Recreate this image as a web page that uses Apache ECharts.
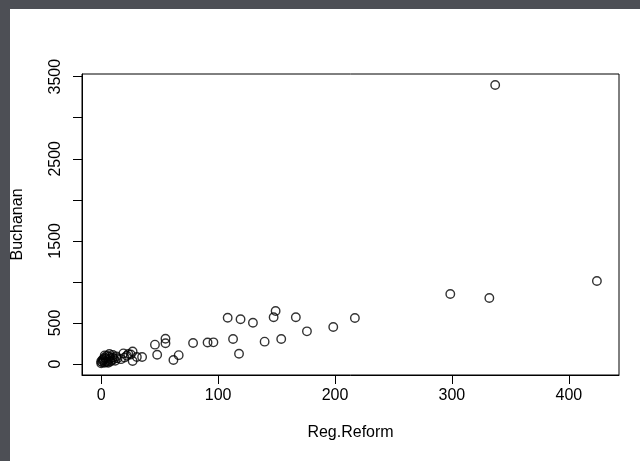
<!DOCTYPE html>
<html>
<head>
<meta charset="utf-8">
<script src="https://cdn.jsdelivr.net/npm/echarts@6/dist/echarts.min.js"></script>
<style>
  html, body { margin: 0; padding: 0; background: #4d4f55; }
  #paper { position: absolute; left: 10px; top: 9px; width: 630px; height: 452px; background: #ffffff; }
  #chart { position: absolute; left: 0; top: 0; width: 640px; height: 461px; }
</style>
</head>
<body>
<div id="paper"></div>
<div id="chart"></div>
<script>
// Reg.Reform (x) vs Buchanan (y)
const regReform = [337, 424, 298.6, 332, 217, 198.5, 176, 166.5, 149.2, 147.5,
  154, 139.8, 129.8, 119.2, 108.2, 112.8, 117.9, 96, 91, 78.6,
  55, 55, 46, 47.9, 61.8, 66.3, 35, 30.5, 26.9, 25.3,
  23.2, 26.9, 16.9, 13, 7, 10, 5, 3, 8, 2,
  4, 1, 6, 9, 11, 3, 0, 2, 5, 7,
  12, 14, 1, 4, 6, 8, 3, 10, 20, 22,
  19, 0];
const buchanan = [3399, 1011, 853, 804, 560, 451, 398, 569, 646, 569,
  305, 272, 503, 545, 564, 305, 125, 264, 262, 255,
  308, 252, 236, 113, 49, 108, 86, 86, 152, 115,
  122, 37, 59, 93, 122, 110, 100, 80, 70, 40,
  30, 20, 50, 45, 60, 15, 10, 60, 25, 90,
  40, 70, 50, 65, 15, 30, 105, 80, 80, 100,
  129, 30];
const xTicks = [0, 100, 200, 300, 400];
const yTicks = [0, 500, 1000, 1500, 2000, 2500, 3000, 3500];
const yTickLabels = [0, 500, 1500, 2500, 3500];
const xTitle = 'Reg.Reform';
const yTitle = 'Buchanan';

const points = regReform.map((x, i) => [x, buchanan[i]]);
const font = '"Liberation Sans", Arial, Helvetica, sans-serif';
const plain = v => String(Math.round(v));

const chart = echarts.init(document.getElementById('chart'), null, { renderer: 'canvas' });
chart.setOption({
  animation: false,
  backgroundColor: 'transparent',
  grid: { left: 82, right: 21, top: 74, bottom: 86, show: true, borderColor: '#000', borderWidth: 1, backgroundColor: 'transparent' },
  xAxis: {
    type: 'value', min: -16.4, max: 442.9,
    name: xTitle, nameLocation: 'middle', nameGap: 50,
    nameTextStyle: { color: '#000', fontSize: 16, fontFamily: font },
    axisLine: { show: true, onZero: false, lineStyle: { color: '#000', width: 1 } },
    axisTick: { show: true, length: 9, inside: false, customValues: xTicks, lineStyle: { color: '#000', width: 1 } },
    axisLabel: { show: true, customValues: xTicks, formatter: plain, margin: 13, color: '#000', fontSize: 16, fontFamily: font },
    splitLine: { show: false }
  },
  yAxis: {
    type: 'value', min: -134, max: 3532.7,
    name: yTitle, nameLocation: 'middle', nameGap: 56, nameRotate: 90,
    nameTextStyle: { color: '#000', fontSize: 16, fontFamily: font },
    axisLine: { show: true, onZero: false, lineStyle: { color: '#000', width: 1 } },
    axisTick: { show: true, length: 9, inside: false, customValues: yTicks, lineStyle: { color: '#000', width: 1 } },
    axisLabel: { show: true, customValues: yTickLabels, formatter: plain, rotate: 90, margin: 18, color: '#000', fontSize: 16, fontFamily: font },
    splitLine: { show: false }
  },
  series: [{
    type: 'scatter',
    data: points,
    symbol: 'circle',
    symbolSize: 8.5,
    itemStyle: { color: 'rgba(0,0,0,0)', borderColor: '#000', borderWidth: 1.4 },
    emphasis: { disabled: true }
  }]
});
</script>
</body>
</html>
